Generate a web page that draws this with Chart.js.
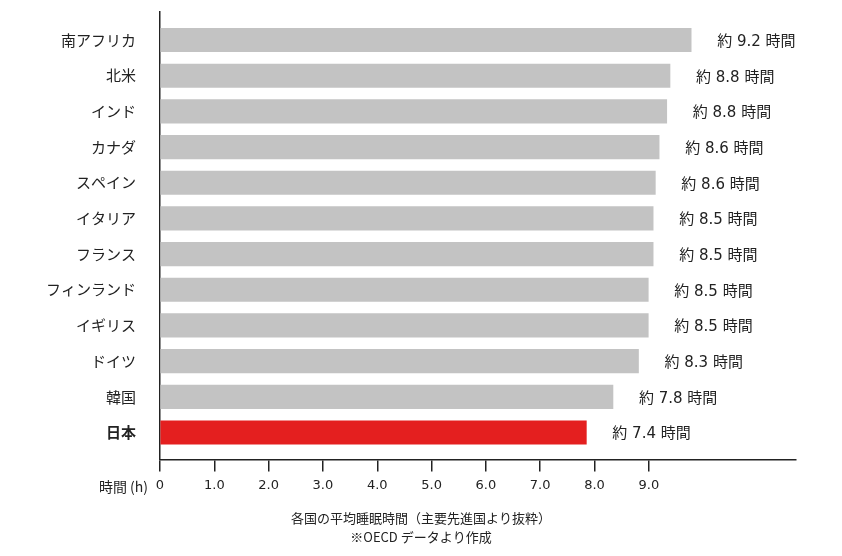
<!DOCTYPE html>
<html lang="ja">
<head>
<meta charset="utf-8">
<title>各国の平均睡眠時間</title>
<script src="https://cdn.jsdelivr.net/npm/chart.js@4/dist/chart.umd.min.js"></script>
<style>
  html, body { margin: 0; padding: 0; background: #fff; }
  #wrap { width: 842px; height: 556px; position: relative; }
</style>
</head>
<body>
<div id="wrap"><canvas id="sleepChart"></canvas></div>
<script>
// ---- data ----
const countries = ['南アフリカ', '北米', 'インド', 'カナダ', 'スペイン', 'イタリア', 'フランス', 'フィンランド', 'イギリス', 'ドイツ', '韓国', '日本'];
// bar lengths as drawn in the picture (axis units)
const barLengths = [9.78, 9.39, 9.33, 9.19, 9.12, 9.08, 9.08, 8.99, 8.99, 8.81, 8.34, 7.85];
// hours printed next to each bar
const reportedHours = [9.2, 8.8, 8.8, 8.6, 8.6, 8.5, 8.5, 8.5, 8.5, 8.3, 7.8, 7.4];
const xTicks = [0, 1, 2, 3, 4, 5, 6, 7, 8, 9];
const highlight = '日本';

const JP = '"Noto Sans CJK JP", "Noto Sans", sans-serif';
const GRAY = '#c3c3c3';
const RED = '#e41f1f';
const INK = '#222';

// 値ラベル「約 x.x 時間」
const valueLabels = {
  id: 'valueLabels',
  afterDatasetsDraw(chart) {
    const { ctx } = chart;
    const meta = chart.getDatasetMeta(0);
    ctx.save();
    ctx.font = '15px "DejaVu Sans", ' + JP;
    ctx.fillStyle = INK;
    ctx.textAlign = 'left';
    ctx.textBaseline = 'middle';
    meta.data.forEach((bar, i) => {
      ctx.fillText('約 ' + reportedHours[i].toFixed(1) + ' 時間', bar.x + 26, bar.y + 2);
    });
    ctx.restore();
  }
};

// 軸の単位「時間 (h)」
const unitLabel = {
  id: 'unitLabel',
  afterDraw(chart) {
    const x = chart.scales.x;
    const { ctx } = chart;
    ctx.save();
    ctx.font = '14px ' + JP;
    ctx.fillStyle = INK;
    ctx.textAlign = 'right';
    ctx.textBaseline = 'middle';
    ctx.fillText('時間 (h)', x.left - 12, x.top + 27);
    ctx.restore();
  }
};

const ctx = document.getElementById('sleepChart').getContext('2d');
new Chart(ctx, {
  type: 'bar',
  data: {
    datasets: [{
      data: countries.map((c, i) => ({ x: barLengths[i], y: i })),
      backgroundColor: countries.map(c => c === highlight ? RED : GRAY),
      borderWidth: 0,
      barThickness: 23.5
    }]
  },
  options: {
    indexAxis: 'y',
    responsive: true,
    maintainAspectRatio: false,
    animation: false,
    layout: { padding: { top: 12, right: 0, left: 0, bottom: 0 } },
    plugins: {
      legend: { display: false },
      tooltip: { enabled: false },
      title: {
        display: true,
        position: 'bottom',
        text: ['各国の平均睡眠時間（主要先進国より抜粋）', '※OECD データより作成'],
        color: INK,
        font: { family: JP, size: 13, weight: 'normal', lineHeight: 1.42 },
        padding: { top: 10, bottom: 10 }
      }
    },
    scales: {
      x: {
        type: 'linear',
        min: 0,
        max: 11.71,
        afterBuildTicks: s => { s.ticks = xTicks.map(v => ({ value: v })); },
        afterFit: s => { s.paddingRight = 46; },
        ticks: {
          autoSkip: false,
          color: INK,
          padding: 6,
          font: { family: '"DejaVu Sans", Verdana, sans-serif', size: 13 },
          callback: v => v === 0 ? '0' : v.toFixed(1)
        },
        grid: { drawOnChartArea: false, drawTicks: true, tickLength: 12, color: INK, lineWidth: 1.5 },
        border: { display: true, color: INK, width: 1.5 }
      },
      y: {
        type: 'linear',
        reverse: true,
        offset: false,
        min: -0.786,
        max: 11.757,
        afterBuildTicks: s => { s.ticks = countries.map((c, i) => ({ value: i })); },
        afterFit: s => { s.width = 160; s.paddingTop = 0; s.paddingBottom = 0; },
        ticks: {
          autoSkip: false,
          color: INK,
          padding: 24,
          font: c => ({
            family: JP,
            size: 15,
            weight: countries[c.tick && c.tick.value] === highlight ? 'bold' : 'normal'
          }),
          callback: v => countries[v]
        },
        grid: { display: false, drawTicks: false, offset: false },
        border: { display: true, color: INK, width: 1.5 }
      }
    }
  },
  plugins: [valueLabels, unitLabel]
});
</script>
</body>
</html>
